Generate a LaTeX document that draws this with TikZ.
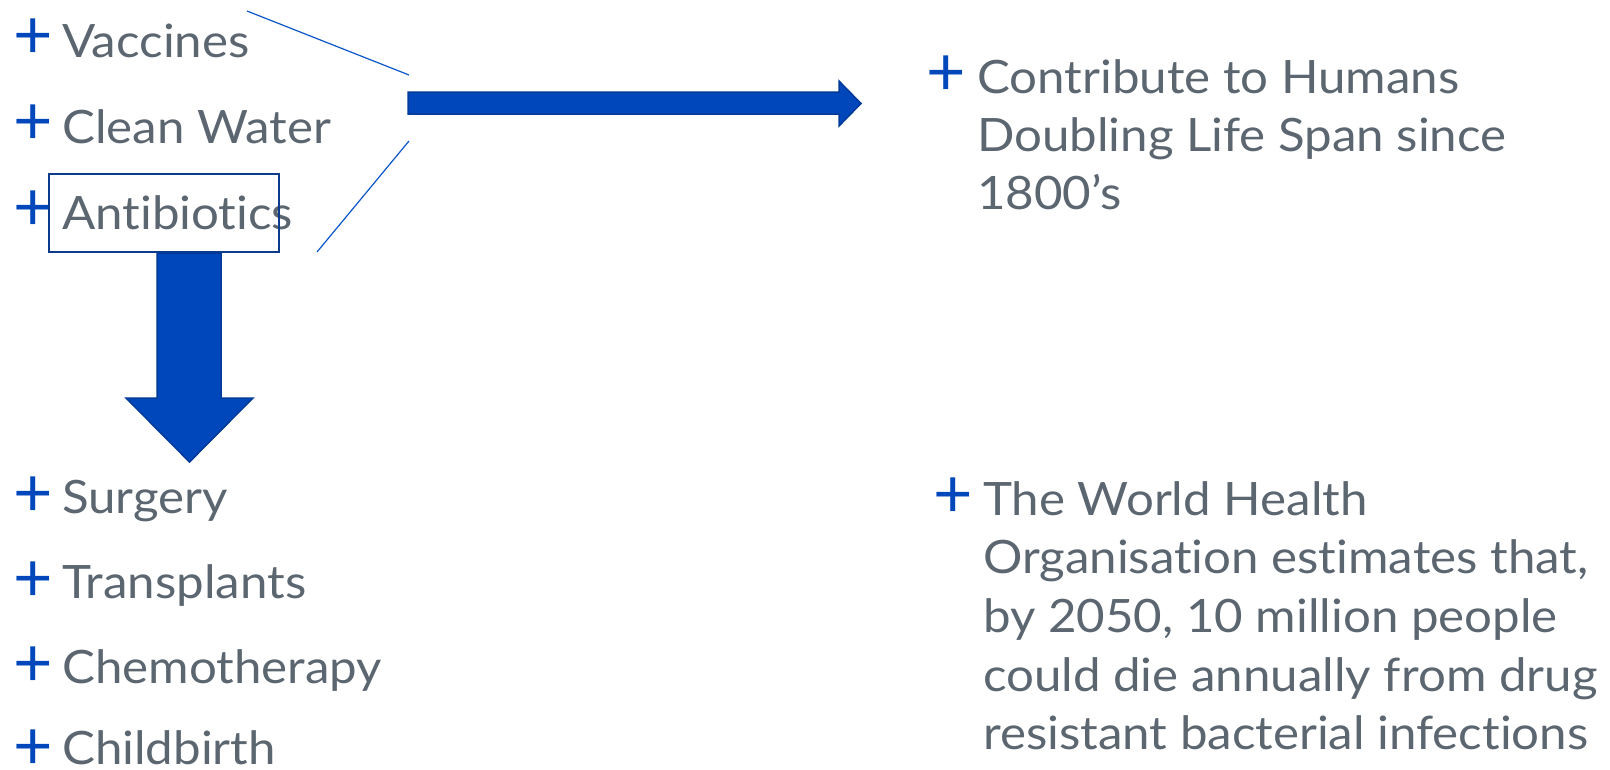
\documentclass[tikz,border=0pt]{standalone}
\usepackage{fontspec}
\setmainfont{Lato}[Ligatures=NoCommon, FakeStretch=1.07]
\newfontfamily\bulletfont{Lato}
\definecolor{txt}{HTML}{5B6670}
\definecolor{plusblue}{HTML}{0047BB}
\definecolor{arrowfill}{HTML}{0047BB}
\definecolor{arrowedge}{HTML}{003A99}
\definecolor{boxedge}{HTML}{0B3B8C}
\definecolor{lineblue}{HTML}{0A55C8}
\begin{document}
\begin{tikzpicture}[x=1pt,y=-1pt,
  lbl/.style={anchor=base west, inner sep=0pt, text=txt, font=\fontsize{46}{58}\selectfont},
  bullet/.style={inner sep=0pt, text=plusblue, font=\bulletfont\fontsize{68}{68}\selectfont},
  bigarrow/.style={fill=arrowfill, draw=arrowedge, line width=1.5pt, line join=miter},
  callout/.style={draw=lineblue, line width=1.2pt}]
\useasboundingbox (0,0) rectangle (1610,769);
% left top list
\node[bullet] (p1) at (33,39) {+};
\node[lbl] (t1) at (62,57) {Vaccines};
\node[bullet] (p2) at (33,125) {+};
\node[lbl] (t2) at (62,143) {Clean Water};
\node[bullet] (p3) at (33,211) {+};
\node[lbl] (t3) at (62,229) {Antibiotics};
\node[draw=boxedge, line width=2pt, inner sep=0pt, minimum width=230pt, minimum height=78pt] (abox) at (164,213) {};
% left bottom list
\node[bullet] (p4) at (33,497) {+};
\node[lbl] (t4) at (62,513) {Surgery};
\node[bullet] (p5) at (33,582) {+};
\node[lbl] (t5) at (62,598) {Transplants};
\node[bullet] (p6) at (33,667) {+};
\node[lbl] (t6) at (62,683) {Chemotherapy};
\node[bullet] (p7) at (33,750) {+};
\node[lbl] (t7) at (62,764) {Childbirth};
% right top
\node[bullet] (p8) at (946,76) {+};
\node[lbl] (r1) at (977,93) {Contribute to Humans};
\node[lbl] (r2) at (977,151) {Doubling Life Span since};
\node[lbl] (r3) at (977,209) {1800’s};
% right bottom
\node[bullet] (p9) at (953,498) {+};
\node[lbl] (w1) at (983,515) {The World Health};
\node[lbl] (w2) at (983,573) {Organisation estimates that,};
\node[lbl] (w3) at (983,632) {by 2050, 10 million people};
\node[lbl] (w4) at (983,691) {could die annually from drug};
\node[lbl] (w5) at (983,749) {resistant bacterial infections};
% callout lines
\coordinate (c1a) at (247,11);
\coordinate (c1b) at (409,75);
\coordinate (c2a) at (409,141);
\coordinate (c2b) at (317,252);
\draw[callout] (c1a) -- (c1b);
\draw[callout] (c2a) -- (c2b);
% right arrow
\draw[bigarrow] (408,92) -- (839,92) -- (839,81) -- (861,103.5) -- (839,126) -- (839,114) -- (408,114) -- cycle;
% down arrow
\draw[bigarrow] (157,253) -- (221,253) -- (221,398) -- (253,398) -- (189.5,462) -- (126,398) -- (157,398) -- cycle;
\end{tikzpicture}
\end{document}
